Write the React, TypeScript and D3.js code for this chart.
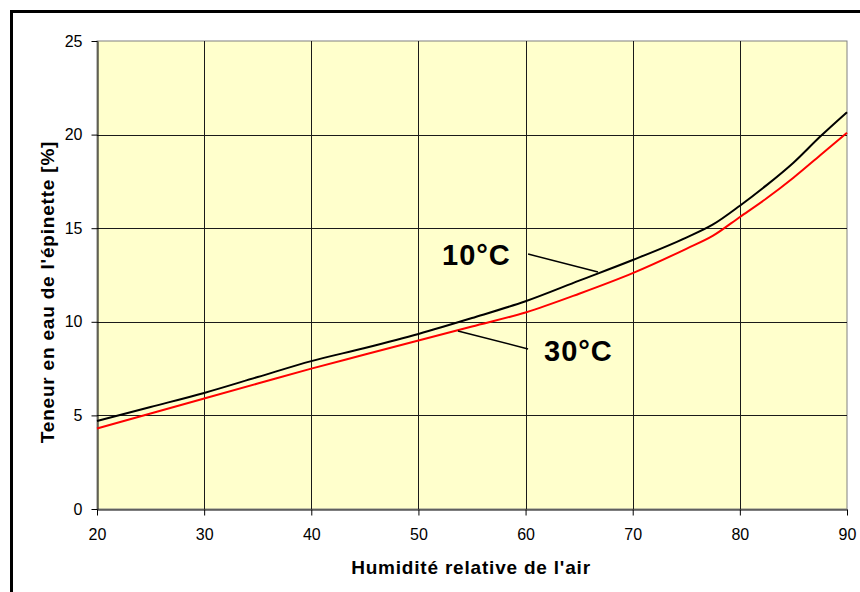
import { useEffect, useRef } from "react";
import * as d3 from "d3";

const humidity = [20, 25, 30, 35, 40, 45, 50, 55, 60, 65, 70, 75, 77.5, 80, 82.5, 85, 87.5, 90];
const content10 = [4.7, 5.45, 6.2, 7.05, 7.9, 8.6, 9.35, 10.2, 11.1, 12.2, 13.3, 14.5, 15.2, 16.2, 17.3, 18.5, 19.9, 21.2];
const content30 = [4.3, 5.1, 5.9, 6.7, 7.5, 8.25, 9.0, 9.75, 10.5, 11.5, 12.6, 13.9, 14.6, 15.6, 16.6, 17.7, 18.9, 20.1];
const xTicks = [20, 30, 40, 50, 60, 70, 80, 90];
const yTicks = [0, 5, 10, 15, 20, 25];

export default function App() {
    const svgRef = useRef<SVGSVGElement | null>(null);

    useEffect(() => {
        if (!svgRef.current) return;
        const svg = d3.select(svgRef.current);
        svg.selectAll("*").remove();

        const left = 97, right = 847, top = 41, bottom = 509;
        const x = d3.scaleLinear().domain([20, 90]).range([left, right]);
        const y = d3.scaleLinear().domain([0, 25]).range([bottom, top]);
        const font = "'Liberation Sans', Arial, sans-serif";

        // outer frame
        svg.append("rect")
            .attr("x", 11.5).attr("y", 11.5)
            .attr("width", 900).attr("height", 700)
            .attr("fill", "white")
            .attr("stroke", "black").attr("stroke-width", 3);

        svg.append("rect")
            .attr("x", left).attr("y", top)
            .attr("width", right - left).attr("height", bottom - top)
            .attr("fill", "#ffffcc")
            .attr("stroke", "#808080").attr("stroke-width", 1);

        // grid
        const grid = svg.append("g").attr("stroke", "#1a1a1a").attr("stroke-width", 1);
        xTicks.slice(1, -1).forEach(t => {
            grid.append("line")
                .attr("x1", Math.round(x(t)) + 0.5).attr("x2", Math.round(x(t)) + 0.5)
                .attr("y1", top).attr("y2", bottom);
        });
        yTicks.slice(1, -1).forEach(t => {
            grid.append("line")
                .attr("x1", left).attr("x2", right)
                .attr("y1", Math.round(y(t)) + 0.5).attr("y2", Math.round(y(t)) + 0.5);
        });

        // axes
        const xAxis = svg.append("g")
            .attr("transform", `translate(0,${bottom + 0.5})`)
            .call(d3.axisBottom(x).tickValues(xTicks).tickSize(6).tickPadding(13).tickSizeOuter(0));
        const yAxis = svg.append("g")
            .attr("transform", `translate(${left + 0.5},0)`)
            .call(d3.axisLeft(y).tickValues(yTicks).tickSize(6).tickPadding(9).tickSizeOuter(0));
        [xAxis, yAxis].forEach(a => {
            a.selectAll("path,line").attr("stroke", "black");
            a.selectAll("text").attr("font-family", font).attr("font-size", 16).attr("fill", "black");
        });

        const line = d3.line<[number, number]>()
            .x(d => x(d[0]))
            .y(d => y(d[1]))
            .curve(d3.curveMonotoneX);

        svg.append("path")
            .datum(humidity.map((h, i) => [h, content30[i]] as [number, number]))
            .attr("fill", "none").attr("stroke", "#ff0000").attr("stroke-width", 2)
            .attr("d", line);
        svg.append("path")
            .datum(humidity.map((h, i) => [h, content10[i]] as [number, number]))
            .attr("fill", "none").attr("stroke", "black").attr("stroke-width", 2)
            .attr("d", line);

        // labels with leader lines
        svg.append("text")
            .attr("x", 442).attr("y", 265)
            .attr("font-family", font).attr("font-size", 29).attr("font-weight", "bold")
            .attr("letter-spacing", 1)
            .text("10°C");
        svg.append("line")
            .attr("x1", x(60.23)).attr("y1", y(13.62)).attr("x2", x(66.76)).attr("y2", y(12.66))
            .attr("stroke", "black").attr("stroke-width", 1.5);
        svg.append("text")
            .attr("x", 544).attr("y", 361)
            .attr("font-family", font).attr("font-size", 29).attr("font-weight", "bold")
            .attr("letter-spacing", 1)
            .text("30°C");
        svg.append("line")
            .attr("x1", x(53.69)).attr("y1", y(9.51)).attr("x2", x(60.23)).attr("y2", y(8.55))
            .attr("stroke", "black").attr("stroke-width", 1.5);

        // axis titles
        svg.append("text")
            .attr("x", 471).attr("y", 574)
            .attr("text-anchor", "middle")
            .attr("font-family", font).attr("font-size", 19).attr("font-weight", "bold")
            .attr("letter-spacing", 0.8)
            .text("Humidité relative de l'air");
        svg.append("text")
            .attr("transform", `translate(54,292) rotate(-90)`)
            .attr("text-anchor", "middle")
            .attr("font-family", font).attr("font-size", 19).attr("font-weight", "bold")
            .attr("letter-spacing", 0.8)
            .text("Teneur en eau de l'épinette [%]");
    }, []);

    return (
        <svg ref={svgRef} width={860} height={592}
            style={{ position: "absolute", left: 0, top: 0, background: "white" }} />
    );
}
